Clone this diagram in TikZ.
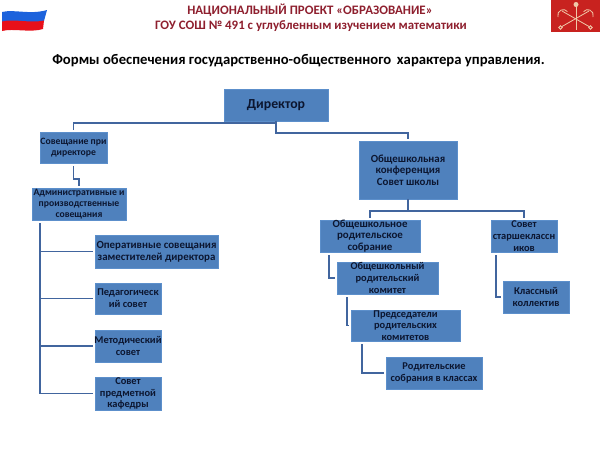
\documentclass[tikz,border=0pt]{standalone}
\usepackage{fontspec}
\setmainfont{Carlito}
\usepackage{xcolor}
\usetikzlibrary{positioning,calc}
\definecolor{boxblue}{HTML}{4F81BD}
\definecolor{boxedge}{HTML}{5C8FCB}
\definecolor{linkblue}{HTML}{41659E}
\definecolor{boxtext}{HTML}{0C1630}
\definecolor{headred}{HTML}{8E1F2E}
\definecolor{armsred}{HTML}{C8221F}
\definecolor{armspale}{HTML}{F0C8A8}
\definecolor{flagblue}{HTML}{1C62DC}
\definecolor{flagred}{HTML}{E8101A}
\tikzset{
  orgbox/.style  = {rectangle, draw=boxedge, fill=boxblue, inner sep=-5pt,
                    outer sep=0pt, minimum width=#1, text=boxtext, align=center,
                    font=\fontsize{10.4}{11.7}\selectfont\bfseries},
  orgbox/.default= 66pt,
  smalltext/.style = {font=\fontsize{9.7}{11.2}\selectfont\bfseries},
  largetext/.style = {font=\fontsize{10.9}{11.7}\selectfont\bfseries},
  headline/.style= {text=headred, font=\fontsize{12.9}{14}\selectfont\bfseries},
  link/.style    = {draw=linkblue, line width=1.4pt, shorten >=2pt},
  armline/.style = {draw=armspale, line width=0.8pt},
}
\begin{document}
\begin{tikzpicture}[x=1pt,y=1pt]
  \useasboundingbox (0,0) rectangle (600,-450);

  %% ---- Header ----
  \node[headline] (project) at (310,-10) {НАЦИОНАЛЬНЫЙ ПРОЕКТ «ОБРАЗОВАНИЕ»};
  \node[headline] (school)  at (311,-26.5) {ГОУ СОШ № 491 с углубленным изучением математики};
  \node[font=\fontsize{14.7}{16}\selectfont\bfseries] (title) at (298.5,-61)
        {Формы обеспечения государственно-общественного\, характера управления.};

  %% ---- Flag ----
  \fill[flagblue] (2,-12) .. controls (14,-9) and (30,-15) .. (47,-10)
        -- (44,-21) .. controls (30,-24) and (14,-19) .. (2,-22) -- cycle;
  \fill[flagred] (2,-21.5) .. controls (14,-18.5) and (30,-23.5) .. (44,-20.5)
        -- (43,-29) .. controls (30,-33) and (14,-28) .. (2,-31) -- cycle;

  %% ---- Arms ----
  \fill[armsred] (551,0) rectangle (600,-32);
  \draw[armline] (562,-26.5) -- (589,-11);
  \draw[armline] (589,-26.5) -- (562,-11);
  \draw[armline] (576,-6) -- (576,-30);
  \fill[armspale] (576,-4.5) circle (2.5);
  \draw[armline] (558,-17) arc (200:40:5.5);
  \draw[armline] (593,-17) arc (-20:140:5.5);
  \draw[armline] (560.5,-27.5) circle (1.8);
  \draw[armline] (590.5,-27.5) circle (1.8);

  %% ---- Top ----
  \node[orgbox=104pt, minimum height=32pt, font=\fontsize{13.8}{15}\selectfont\bfseries]
        (director) at (276,-105) {Директор};
  \node[orgbox=67pt, minimum height=31pt, smalltext] (sovet) at (73.5,-147.5)
        {Совещание при\\директоре};
  \node[orgbox=98pt, minimum height=58pt, largetext] (conf) at (408,-170)
        {Общешкольная\\конференция\\Совет школы};

  %% ---- Left column ----
  \node[orgbox=94pt, minimum height=32pt, smalltext, below=25pt of sovet, xshift=5.5pt]
        (admin) {Административные и\\производственные\\совещания};
  \node[orgbox=123pt, minimum height=33pt, largetext, below=15pt of admin, xshift=77.5pt]
        (operat) {Оперативные совещания\\заместителей директора};
  \node[orgbox, minimum height=31pt, below=15pt of operat, xshift=-28.5pt]
        (pedag) {Педагогическ\\ий совет};
  \node[orgbox, minimum height=32pt, below=16pt of pedag]
        (metod) {Методический\\совет};
  \node[orgbox, minimum height=33pt, below=15pt of metod]
        (kafedra) {Совет\\предметной\\кафедры};

  %% ---- Right column ----
  \node[orgbox=100pt, minimum height=32pt, largetext, below=21pt of conf, xshift=-38pt]
        (parents) {Общешкольное\\родительское\\собрание};
  \node[orgbox, minimum height=32pt, below=21pt of conf, xshift=116pt]
        (senior) {Совет\\старшеклассн\\иков};
  \node[orgbox=101pt, minimum height=32pt, below=10pt of parents, xshift=17.5pt]
        (komitet) {Общешкольный\\родительский\\комитет};
  \node[orgbox=109pt, minimum height=31pt, below=16pt of komitet, xshift=18pt]
        (chairs) {Председатели\\родительских\\комитетов};
  \node[orgbox=96pt, minimum height=32pt, below=16pt of chairs, xshift=28.5pt]
        (classmeet) {Родительские\\собрания в классах};
  \node[orgbox, minimum height=32pt, below=29pt of senior, xshift=12pt]
        (klass) {Классный\\коллектив};

  %% ---- Director ----
  \draw[link] (director.south) -- ++(0,-2) -| (sovet.north);
  \draw[link] (director.south) -- ++(0,-12) -| (conf.north);

  %% ---- Left links ----
  \draw[link, shorten <=3pt] (sovet.south) -- ++(0,-16) -| (admin.north);
  \draw[link, shorten <=3pt] ([xshift=8pt]admin.south west) |- (operat.west);
  \draw[link, shorten <=3pt] ([xshift=8pt]admin.south west) |- (pedag.west);
  \draw[link, shorten <=3pt] ([xshift=8pt]admin.south west) |- (metod.west);
  \draw[link, shorten <=3pt] ([xshift=8pt]admin.south west) |- (kafedra.west);

  %% ---- Right links ----
  \draw[link] (conf.south) -- ++(0,-12) -| (parents.north);
  \draw[link] (conf.south) -- ++(0,-12) -| (senior.north);
  \draw[link, shorten <=3pt] ([xshift=9pt]parents.south west) |- (komitet.west);
  \draw[link, shorten <=3pt] ([xshift=10pt]komitet.south west) |- (chairs.west);
  \draw[link, shorten <=3pt] ([xshift=11pt]chairs.south west) |- (classmeet.west);
  \draw[link, shorten <=3pt] ([xshift=5pt]senior.south west) |- (klass.west);

\end{tikzpicture}
\end{document}
